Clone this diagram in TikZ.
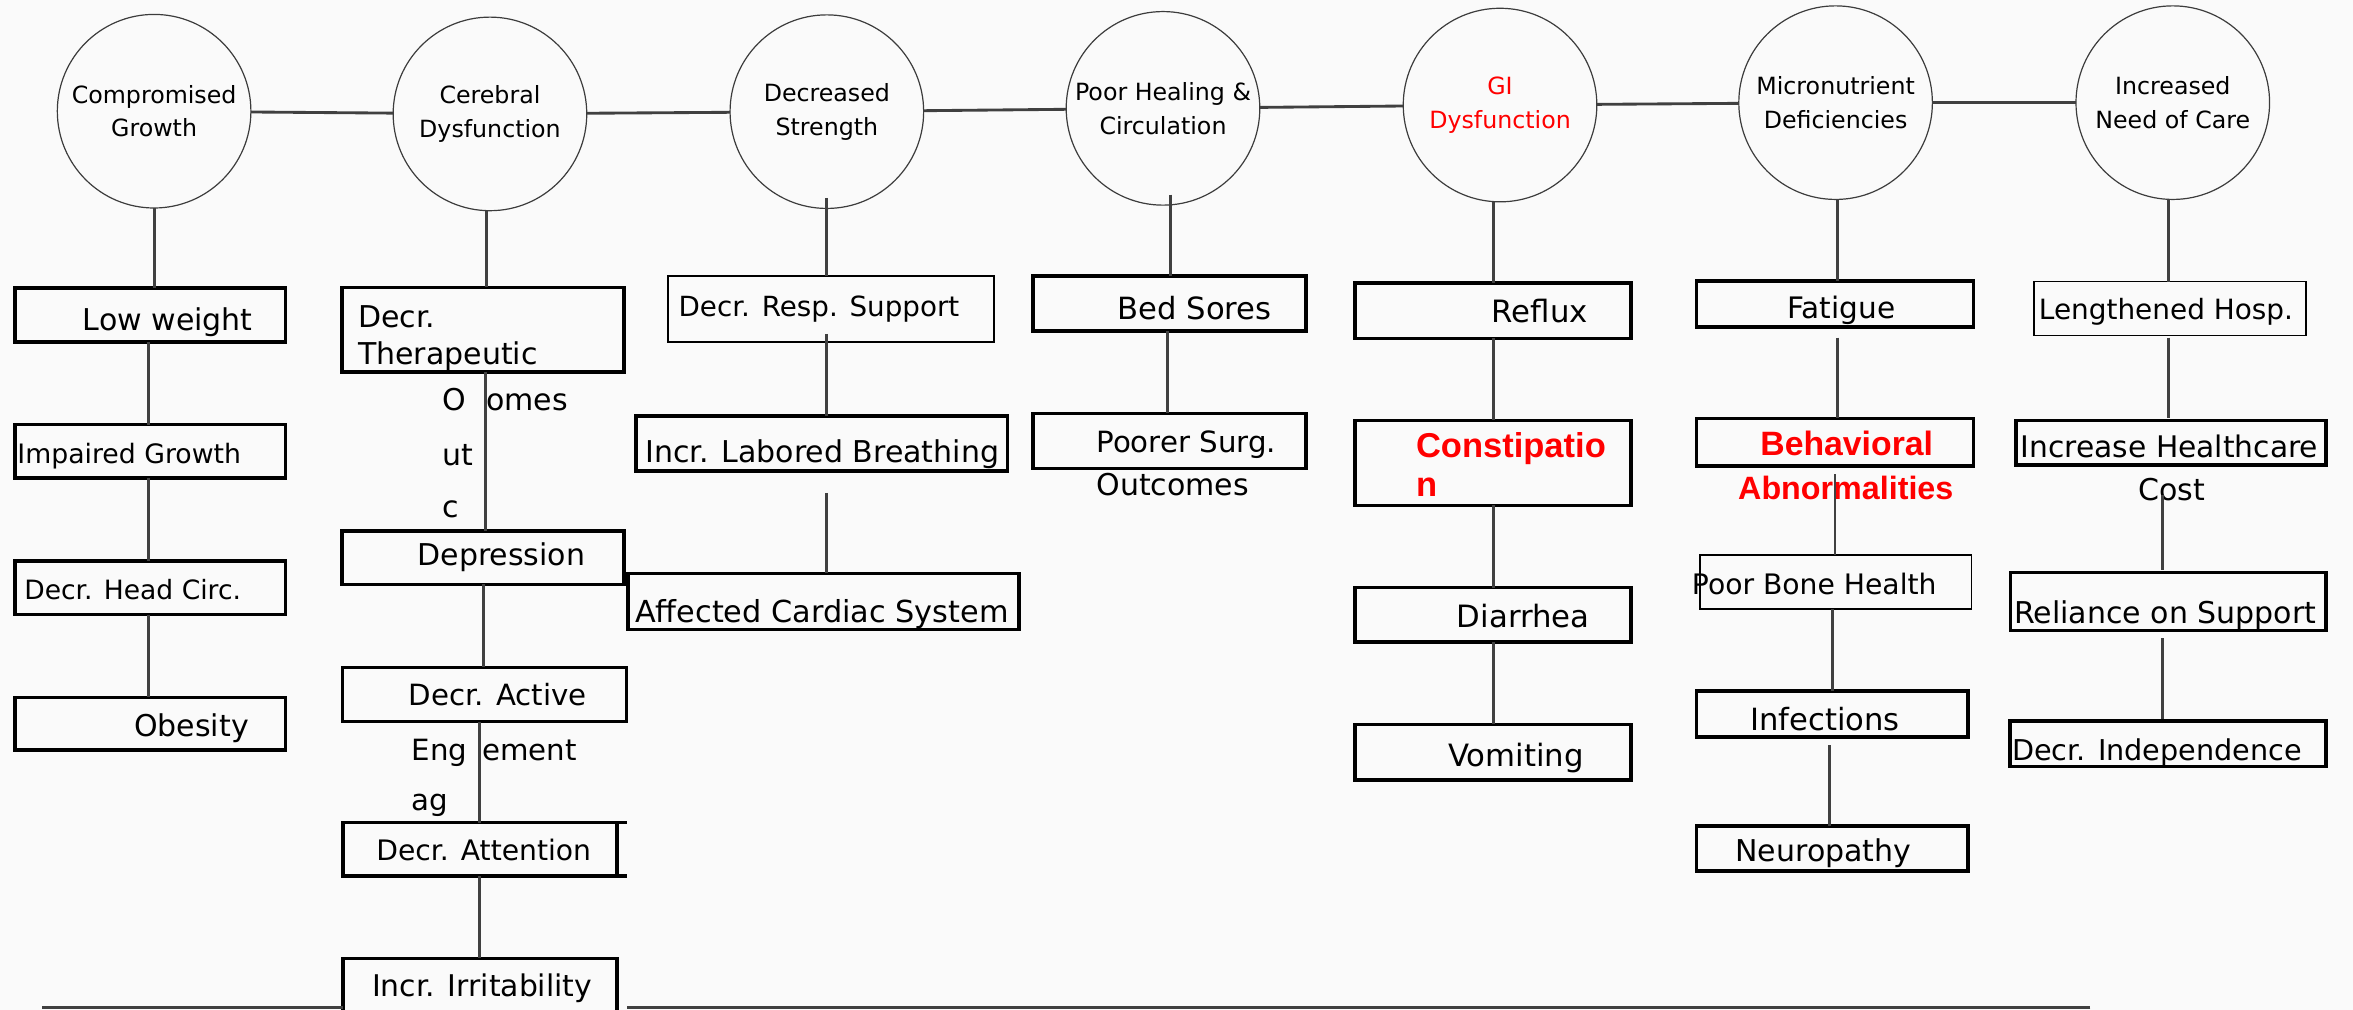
\documentclass[tikz,border=0pt]{standalone}
\usepackage{fontspec}
\setmainfont{DejaVu Sans}
\newfontfamily\lsans{Liberation Sans}
\usetikzlibrary{calc}
\definecolor{bgc}{RGB}{250,250,250}
\definecolor{lnc}{RGB}{64,64,64}
\definecolor{cbd}{RGB}{60,60,60}
\newcommand\fsz[1]{\fontsize{#1}{#1}\selectfont}
\begin{document}
\begin{tikzpicture}[x=1pt,y=-1pt,
  circ/.style={circle, draw=cbd, line width=0.8pt, minimum size=129pt, inner sep=0pt, outer sep=0pt, align=center, font=\fontsize{15.8}{22.5}\selectfont},
  bx/.style={rectangle, draw=black, line width=2.4pt, inner sep=0pt, outer sep=0pt},
  thinbx/.style={bx, line width=1.2pt},
  lbl/.style={anchor=base west, inner sep=0pt, font=\fsz{20}},
  redlbl/.style={anchor=base west, inner sep=0pt, text=red, font=\lsans\bfseries\fsz{#1}},
  conn/.style={draw=lnc, line width=1.9pt},
]
\fill[bgc] (0,0) rectangle (1568,673);
\useasboundingbox (0,0) rectangle (1568,673);
\clip (0,0) rectangle (1568,673);

% circles
\node[circ] (c1) at (102.7,74.1) {Compromised\\Growth};
\node[circ] (c2) at (326.5,75.9) {Cerebral\\Dysfunction};
\node[circ] (c3) at (551,74.4) {Decreased\\Strength};
\node[circ] (c4) at (775,72.2) {Poor Healing \&\\Circulation};
\node[circ, text=red] (c5) at (999.6,70) {GI\\Dysfunction};
\node[circ] (c6) at (1223.2,68.4) {Micronutrient\\Deficiencies};
\node[circ] (c7) at (1447.9,68.4) {Increased\\Need of Care};

% column 1
\node[bx, minimum width=180.3pt, minimum height=35.7pt] (b11) at (100.15,209.85) {};
\node[bx, minimum width=180.3pt, minimum height=35.7pt] (b12) at (100.15,300.75) {};
\node[bx, minimum width=180.3pt, minimum height=35.7pt] (b13) at (100.15,391.65) {};
\node[bx, minimum width=180.3pt, minimum height=35.1pt] (b14) at (100.15,482.25) {};
% column 2
\node[bx, minimum width=188pt, minimum height=56.3pt] (b21) at (322,219.65) {};
\node[bx, minimum width=188pt, minimum height=35.7pt] (b22) at (322,371.55) {};
\node[bx, minimum width=189.2pt, minimum height=36.2pt] (b23) at (322.8,462.8) {};
\node[bx, minimum width=182.6pt, minimum height=35.6pt] (b24) at (319.7,566) {};
\node[bx, minimum width=182.6pt, minimum height=80pt] (b25) at (319.7,678.6) {};
% column 3
\node[thinbx, minimum width=217.3pt, minimum height=44pt] (b31) at (553.85,206.1) {};
\node[bx, minimum width=247.6pt, minimum height=36.8pt] (b32) at (547.6,295.6) {};
\node[bx, minimum width=260.7pt, minimum height=37.5pt] (b33) at (548.85,400.85) {};
% column 4
\node[bx, minimum width=182.1pt, minimum height=36.5pt] (b41) at (779.25,202.15) {};
\node[bx, minimum width=182.1pt, minimum height=36.6pt] (b42) at (779.25,293.8) {};
% column 5
\node[bx, minimum width=183.9pt, minimum height=37pt] (b51) at (995.05,207) {};
\node[bx, minimum width=183.9pt, minimum height=56.6pt] (b52) at (995.05,308.5) {};
\node[bx, minimum width=183.9pt, minimum height=36.5pt] (b53) at (995.05,409.75) {};
\node[bx, minimum width=183.9pt, minimum height=37pt] (b54) at (995.05,501.2) {};
% column 6
\node[bx, minimum width=184.8pt, minimum height=30.9pt] (b61) at (1222.8,202.55) {};
\node[bx, minimum width=184.8pt, minimum height=31.8pt] (b62) at (1222.8,294.7) {};
\node[thinbx, minimum width=180.8pt, minimum height=35.9pt] (b63) at (1223.4,387.95) {};
\node[bx, minimum width=181.2pt, minimum height=30.4pt] (b64) at (1221,475.8) {};
\node[bx, minimum width=181.2pt, minimum height=30.1pt] (b65) at (1221,565.35) {};
% column 7
\node[thinbx, minimum width=181.2pt, minimum height=35.9pt] (b71) at (1446,205.55) {};
\node[bx, minimum width=206.7pt, minimum height=29.5pt] (b72) at (1446.75,294.95) {};
\node[bx, minimum width=210.3pt, minimum height=38.7pt] (b73) at (1444.95,400.85) {};
\node[bx, minimum width=210.8pt, minimum height=30.4pt] (b74) at (1444.7,495.6) {};

\draw[line width=2.4pt] (b24.north east) -- ++(6.6,0) (b24.south east) -- ++(6.6,0);

% labels column 1
\node[lbl] (t11) at (55,220.2) {Low weight};
\node[lbl, font=\fsz{17.8}] (t12) at (11.4,308.9) {Impaired Growth};
\node[lbl, font=\fsz{17.7}] (t13) at (16,399.8) {Decr. Head Circ.};
\node[lbl] (t14) at (89.2,490.7) {Obesity};
% labels column 2
\node[lbl] (t21a) at (238.4,218) {Decr.};
\node[lbl] (t21b) at (238.4,243) {Therapeutic};
\node[lbl] (t21c) at (294.7,273.8) {O};
\node[lbl] (t21d) at (323.7,273.8) {omes};
\node[lbl] (t21e) at (294.7,309.9) {ut};
\node[lbl] (t21f) at (294.7,344.6) {c};
\node[lbl] (t22) at (278,377) {Depression};
\node[lbl, font=\fsz{19.5}] (t23a) at (272.1,469.8) {Decr. Active};
\node[lbl, font=\fsz{19.5}] (t23b) at (274.3,506.5) {Eng};
\node[lbl, font=\fsz{19.5}] (t23c) at (321,506.5) {ement};
\node[lbl, font=\fsz{19.5}] (t23d) at (274,539.8) {ag};
\node[lbl, font=\fsz{18.8}] (t24) at (250.6,573.1) {Decr. Attention};
\node[lbl, font=\fsz{19.9}] (t25) at (247.7,664.2) {Incr. Irritability};
% labels column 3
\node[lbl, font=\fsz{18.5}] (t31) at (452,210.9) {Decr. Resp. Support};
\node[lbl] (t32) at (429.8,308.4) {Incr. Labored Breathing};
\node[lbl, font=\fsz{20.2}] (t33) at (423,414.5) {Affected Cardiac System};
% labels column 4
\node[lbl, font=\fsz{20.4}] (t41) at (744.6,212.8) {Bed Sores};
\node[lbl, font=\fsz{19.5}] (t42a) at (730.4,301.4) {Poorer Surg.};
\node[lbl] (t42b) at (730.4,330.5) {Outcomes};
% labels column 5
\node[lbl, font=\fsz{20.5}] (t51) at (994,215.2) {Reflux};
\node[redlbl=23] (t52a) at (943.4,305) {Constipatio};
\node[redlbl=23] (t52b) at (943.4,330.7) {n};
\node[lbl, font=\fsz{20.5}] (t53) at (970.7,418.3) {Diarrhea};
\node[lbl, font=\fsz{20.5}] (t54) at (964.8,510.8) {Vomiting};
% labels column 6
\node[lbl, font=\fsz{19.7}] (t61) at (1190.8,212.5) {Fatigue};
\node[redlbl=22.5] (t62a) at (1172.9,303.6) {Behavioral};
\node[redlbl=21.5] (t62b) at (1158.1,332.6) {Abnormalities};
\node[lbl, font=\fsz{18.8}] (t63) at (1127.3,396.2) {Poor Bone Health};
\node[lbl, font=\fsz{20.4}] (t64) at (1166.2,486.5) {Infections};
\node[lbl] (t65) at (1156.3,574.4) {Neuropathy};
% labels column 7
\node[lbl, font=\fsz{18.6}] (t71) at (1358.5,213) {Lengthened Hosp.};
\node[lbl, font=\fsz{19.8}] (t72a) at (1346.5,305) {Increase Healthcare};
\node[lbl] (t72b) at (1424.8,333.5) {Cost};
\node[lbl] (t73) at (1342,415.5) {Reliance on Support};
\node[lbl, font=\fsz{19.1}] (t74) at (1340.7,506.7) {Decr. Independence};

% connectors between circles
\draw[conn] (c1) -- (c2);
\draw[conn] (c2) -- (c3);
\draw[conn] (c3) -- (c4);
\draw[conn] (c4) -- (c5);
\draw[conn] (c5) -- (c6);
\draw[conn] (c6) -- (c7);

% column 1
\draw[conn] (c1.south) -- (c1.south |- b11.north);
\draw[conn] ([xshift=-1.3pt]b11.south) -- ([xshift=-1.3pt]b12.north);
\draw[conn] ([xshift=-1.3pt]b12.south) -- ([xshift=-1.3pt]b13.north);
\draw[conn] ([xshift=-1.3pt]b13.south) -- ([xshift=-1.3pt]b14.north);
% column 2
\draw[conn] ([xshift=-2.5pt]c2.south) -- ([xshift=-2.5pt]c2.south |- b21.north);
\draw[conn] ([xshift=1.6pt]b21.south) -- ([xshift=1.6pt]b22.north);
\draw[conn] (b22.south) -- (b22.south |- b23.north);
\draw[conn] (b24.north |- b23.south) -- (b24.north);
\draw[conn] (b24.south) -- (b25.north);
% column 3
\draw[conn, shorten <=-7pt] (c3.south) -- (c3.south |- b31.north);
\draw[conn, shorten <=-5.6pt] (c3.south |- b31.south) -- (c3.south |- b32.north);
\draw[conn, shorten <=14.5pt] (c3.south |- b32.south) -- (c3.south |- b33.north);
% column 4
\draw[conn, shorten <=-7pt] ([xshift=5pt]c4.south) -- ([xshift=5pt]c4.south |- b41.north);
\draw[conn] ([xshift=-1.3pt]b41.south) -- ([xshift=-1.3pt]b42.north);
% column 5
\draw[conn] ([xshift=-4.3pt]c5.south) -- ([xshift=-4.3pt]c5.south |- b51.north);
\draw[conn] (b51) -- (b52);
\draw[conn] (b52) -- (b53);
\draw[conn] (b53) -- (b54);
% column 6
\draw[conn] ([xshift=1.1pt]c6.south) -- ([xshift=1.1pt]c6.south |- b61.north);
\draw[conn, shorten <=6.9pt] ([xshift=1.5pt]b61.south) -- ([xshift=1.5pt]b62.north);
\draw[conn, shorten <=5.4pt] (b62.south) -- (b62.south |- b63.north);
\draw[conn] ([xshift=-2.2pt]b63.south) -- ([xshift=-2.2pt]b63.south |- b64.north);
\draw[conn, shorten <=5.5pt] ([xshift=-1.6pt]b64.south) -- ([xshift=-1.6pt]b65.north);
% column 7
\draw[conn] ([xshift=-3pt]c7.south) -- ([xshift=-3pt]c7.south |- b71.north);
\draw[conn, shorten <=1.4pt, shorten >=1.4pt] ([xshift=-1.1pt]b71.south) -- ([xshift=-1.1pt]b71.south |- b72.north);
\draw[conn, shorten <=20.2pt, shorten >=1.9pt] ([xshift=-4pt]b73.north |- b72.south) -- ([xshift=-4pt]b73.north);
\draw[conn, shorten <=5pt, shorten >=1.3pt] ([xshift=-4pt]b73.south) -- ([xshift=-4pt]b73.south |- b74.north);

% bottom line
\coordinate (bl) at (28,671.5);
\coordinate (br) at (1393,671.5);
\draw[conn, line width=2.2pt] (bl) -- (bl -| b25.west);
\draw[conn, line width=2.2pt, shorten >=7pt] (br) -- (br -| b25.east);
\end{tikzpicture}
\end{document}
